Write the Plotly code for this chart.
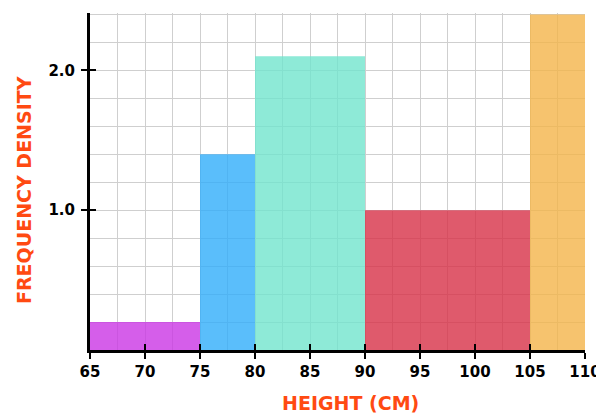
import plotly.graph_objects as go

bin_start = [65, 75, 80, 90, 105]
bin_end = [75, 80, 90, 105, 110]
freq_density = [0.2, 1.4, 2.1, 1.0, 2.4]
bar_colors = ["#CB37E5", "#32AEFB", "#72E5CE", "#D83148", "#F4B54A"]
x_ticks = [65, 70, 75, 80, 85, 90, 95, 100, 105, 110]
y_ticks = [1.0, 2.0]
y_labels = ["1.0", "2.0"]
x_title = "HEIGHT (CM)"
y_title = "FREQUENCY DENSITY"

mid = [(a + b) / 2 for a, b in zip(bin_start, bin_end)]
wid = [b - a for a, b in zip(bin_start, bin_end)]

FONT = "DejaVu Sans"
TITLE_COLOR = "#FF4A12"
fig = go.Figure()
fig.add_trace(go.Bar(x=mid, y=freq_density, width=wid,
                     marker=dict(color=bar_colors, line=dict(width=0)),
                     opacity=0.8, showlegend=False))

xr = [65, 110]
yr = [0, 2.41]
grid = "#cfcfcf"
tickfont = dict(family=FONT, size=15, color="black", weight="bold")
titlefont = dict(family=FONT, size=19, color=TITLE_COLOR, weight="bold")
fig.update_layout(
    width=604, height=415,
    margin=dict(l=82, r=27, t=5, b=73),
    plot_bgcolor="white", paper_bgcolor="white",
    xaxis=dict(range=xr, tickvals=x_ticks, ticktext=[str(v) for v in x_ticks],
               showgrid=True, gridcolor=grid, gridwidth=1,
               minor=dict(dtick=2.5, tick0=65, showgrid=True, gridcolor=grid, gridwidth=1),
               showline=True, linecolor="black", linewidth=3,
               ticks="outside", ticklen=6, tickwidth=2, tickcolor="black",
               tickfont=tickfont,
               automargin=False, zeroline=False, fixedrange=True),
    yaxis=dict(range=yr, tickvals=y_ticks, ticktext=y_labels,
               showgrid=True, gridcolor=grid, gridwidth=1,
               minor=dict(dtick=0.2, tick0=0, showgrid=True, gridcolor=grid, gridwidth=1),
               showline=True, linecolor="black", linewidth=3,
               ticks="outside", ticklen=6, tickwidth=2, tickcolor="black",
               ticklabelstandoff=3,
               tickfont=tickfont,
               automargin=False, zeroline=False, fixedrange=True),
    xaxis2=dict(range=xr, overlaying="x", tickvals=x_ticks, showticklabels=False,
                ticks="inside", ticklen=6, tickwidth=2, tickcolor="black",
                showgrid=False, zeroline=False, showline=False, side="bottom", anchor="y",
                automargin=False),
    yaxis2=dict(range=yr, overlaying="y", tickvals=y_ticks, showticklabels=False,
                ticks="inside", ticklen=6, tickwidth=2, tickcolor="black",
                showgrid=False, zeroline=False, showline=False, side="left", anchor="x",
                automargin=False),
    annotations=[
        dict(text=x_title, xref="paper", yref="paper", x=0.526, y=-0.157,
             xanchor="center", yanchor="middle", showarrow=False, font=titlefont),
        dict(text=y_title, xref="paper", yref="paper", x=-0.1333, y=0.4748,
             xanchor="center", yanchor="middle", showarrow=False, textangle=-90,
             font=titlefont),
    ],
)
fig.add_trace(go.Scatter(x=[None], y=[None], xaxis="x2", yaxis="y2", showlegend=False))
fig.write_html("out.html")
